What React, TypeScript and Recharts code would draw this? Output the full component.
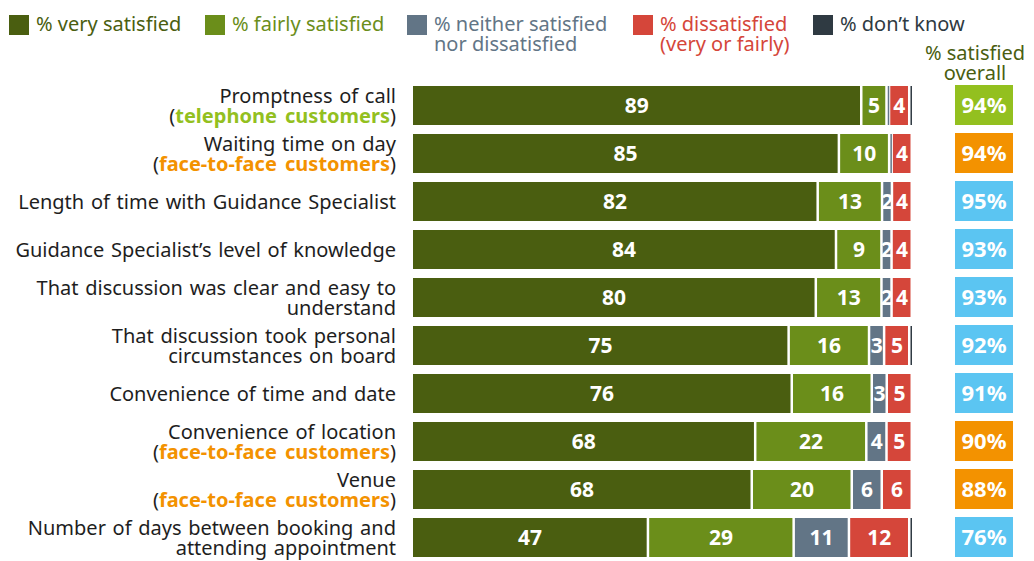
import React from 'react';
import { BarChart, Bar, XAxis, YAxis, LabelList } from 'recharts';

const categories = [
  'Promptness of call',
  'Waiting time on day',
  'Length of time with Guidance Specialist',
  'Guidance Specialist’s level of knowledge',
  'That discussion was clear and easy to|understand',
  'That discussion took personal|circumstances on board',
  'Convenience of time and date',
  'Convenience of location',
  'Venue',
  'Number of days between booking and|attending appointment'
];
const audience = [
  'telephone customers',
  'face-to-face customers',
  '',
  '',
  '',
  '',
  '',
  'face-to-face customers',
  'face-to-face customers',
  ''
];
const verySatisfied = [89, 85, 82, 84, 80, 75, 76, 68, 68, 47];
const fairlySatisfied = [5, 10, 13, 9, 13, 16, 16, 22, 20, 29];
const neither = [0.5, 0.5, 2, 2, 2, 3, 3, 4, 6, 11];
const dissatisfied = [4, 4, 4, 4, 4, 5, 5, 5, 6, 12];
const dontKnow = [0.5, 0, 0, 0, 0, 0.5, 0, 0, 0, 0.5];
const overall = [94, 94, 95, 93, 93, 92, 91, 90, 88, 76];

const series = [
  { key: 'very', name: '% very satisfied', color: '#4a5e10' },
  { key: 'fairly', name: '% fairly satisfied', color: '#6b8e1a' },
  { key: 'neither', name: '% neither satisfied|nor dissatisfied', color: '#627586' },
  { key: 'dis', name: '% dissatisfied|(very or fairly)', color: '#d5463a' },
  { key: 'dk', name: '% don’t know', color: '#2f3a42' }
];

const audienceColor = (a: string) =>
  a === 'telephone customers' ? '#93c01f' : a ? '#f39200' : '#5bc5f2';

const data = categories.map((name, i) => ({
  name,
  audience: audience[i],
  very: verySatisfied[i],
  fairly: fairlySatisfied[i],
  neither: neither[i],
  dis: dissatisfied[i],
  dk: dontKnow[i],
  overall: overall[i]
}));

const FONT = '"Noto Sans", "Open Sans", sans-serif';

const Segment = (props: any) => {
  const { x, y, width, height, fill } = props;
  if (!width || width <= 0) return null;
  const w = Math.max(width - 2.5, 1.5);
  return <rect x={x + 1} y={y} width={w} height={height} fill={fill} />;
};

const LeftTick = (props: any) => {
  const { x, y, payload } = props;
  const row = data.find((d) => d.name === payload.value);
  const lines = payload.value.split('|');
  const aud = row ? row.audience : '';
  const all: string[] = [...lines];
  if (aud) all.push('aud');
  const n = all.length;
  return (
    <g>
      {all.map((l, i) => {
        const dy = (i - (n - 1) / 2) * 20 + 8;
        return (
          <text
            key={i}
            x={x}
            y={y + dy}
            textAnchor="end"
            fontSize={20}
            fontFamily={FONT}
            fill="#1e1e1e"
            style={{ wordSpacing: l === 'aud' ? 3 : 1.5 }}
          >
            {l === 'aud' ? (
              <>
                (<tspan fill={audienceColor(aud)} fontWeight="bold">{aud}</tspan>)
              </>
            ) : (
              l
            )}
          </text>
        );
      })}
    </g>
  );
};

const RightTick = (props: any) => {
  const { x, y, payload } = props;
  const row = data.find((d) => d.name === payload.value);
  if (!row) return null;
  return (
    <g>
      <rect x={x + 43} y={y - 20} width={58} height={40} fill={audienceColor(row.audience)} />
      <text x={x + 72} y={y + 8} textAnchor="middle" fontSize={22} fontWeight="bold" fontFamily={FONT} fill="#fff">
        {row.overall}%
      </text>
    </g>
  );
};

const fmt = (v: any) => (v >= 1.5 ? v : '');

const Legend = () => (
  <div style={{ position: 'absolute', left: 0, top: 0, width: 1034, height: 80, fontFamily: FONT, fontSize: 20 }}>
    {series.map((s, i) => {
      const lefts = [9, 205, 407, 633, 813];
      const parts = s.name.split('|');
      return (
        <div key={s.key} style={{ position: 'absolute', left: lefts[i], top: 14 }}>
          <div style={{ position: 'absolute', left: 0, top: 1, width: 20, height: 20, background: s.color }} />
          <div style={{ position: 'absolute', left: 27, top: 0, color: s.color, lineHeight: '20px', whiteSpace: 'nowrap' }}>
            {parts.map((p) => (
              <div key={p}>{p}</div>
            ))}
          </div>
        </div>
      );
    })}
    <div
      style={{
        position: 'absolute',
        left: 915,
        top: 43,
        width: 120,
        textAlign: 'center',
        color: '#4a5e10',
        lineHeight: '20px'
      }}
    >
      % satisfied
      <br />
      overall
    </div>
  </div>
);

export default function App() {
  return (
    <div style={{ position: 'relative', width: 1034, height: 561, background: '#fff' }}>
      <style>{'body{margin:0;overflow:hidden}'}</style>
      <Legend />
      <BarChart
        width={1034}
        height={561}
        data={data}
        layout="vertical"
        stackOffset="expand"
        barSize={39}
        margin={{ top: 81, right: 0, bottom: 0, left: 0 }}
      >
        <XAxis type="number" domain={[0, 1]} hide />
        <YAxis
          yAxisId="left"
          type="category"
          dataKey="name"
          width={412}
          axisLine={false}
          tickLine={false}
          tickSize={0}
          tickMargin={16}
          interval={0}
          tick={<LeftTick />}
        />
        <YAxis
          yAxisId="right"
          orientation="right"
          type="category"
          dataKey="name"
          width={122}
          axisLine={false}
          tickLine={false}
          tickSize={0}
          tickMargin={0}
          interval={0}
          tick={<RightTick />}
        />
        {series.map((s) => (
          <Bar
            key={s.key}
            yAxisId="left"
            dataKey={s.key}
            stackId="a"
            fill={s.color}
            shape={<Segment />}
            isAnimationActive={false}
          >
            <LabelList
              dataKey={s.key}
              position="center"
              formatter={fmt}
              fill="#fff"
              fontSize={21}
              fontWeight="bold"
              fontFamily={FONT}
            />
          </Bar>
        ))}
      </BarChart>
    </div>
  );
}
